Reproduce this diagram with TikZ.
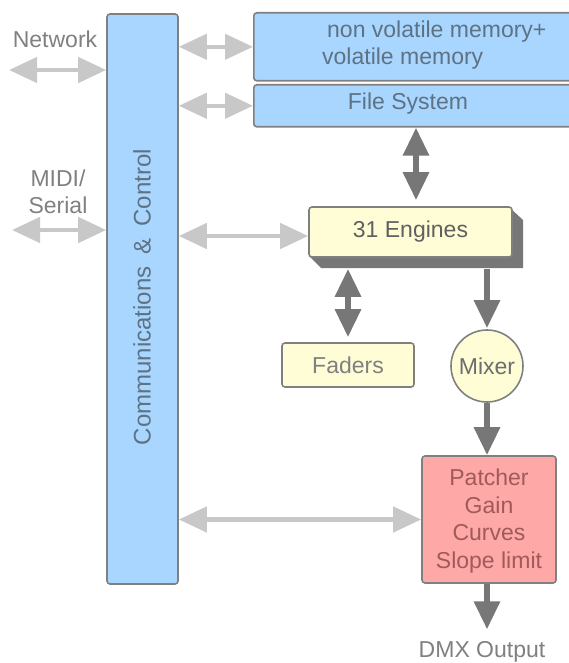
\documentclass[tikz,border=0pt]{standalone}
\usepackage{fontspec}
\setmainfont{Liberation Sans}
\usetikzlibrary{arrows.meta,calc}
\definecolor{bluefill}{HTML}{A8D6FF}
\definecolor{yelfill}{HTML}{FFFDD6}
\definecolor{pinkfill}{HTML}{FFA8A8}
\definecolor{boxline}{HTML}{808080}
\definecolor{darkarr}{HTML}{777777}
\definecolor{lightarr}{HTML}{C8C8C8}
\definecolor{txtgrey}{HTML}{808080}
\definecolor{bluetxt}{HTML}{5E7284}
\definecolor{redtxt}{HTML}{A05A5A}
\begin{document}
\begin{tikzpicture}[x=1pt,y=-1pt,
  every node/.style={font=\fontsize{23}{27.5}\selectfont, inner sep=0pt},
  blk/.style={draw=boxline, line width=1.6pt, rounded corners=3pt},
  bluebox/.style={blk, fill=bluefill},
  yelbox/.style={blk, fill=yelfill},
  lbl/.style={text=txtgrey},
  darr/.style={draw=darkarr, line width=6pt, -{Triangle[width=25pt,length=28pt]}},
  ddarr/.style={draw=darkarr, line width=6pt, {Triangle[width=25pt,length=28pt]}-{Triangle[width=25pt,length=28pt]}},
  larr/.style={draw=lightarr, line width=4.5pt, {Triangle[width=25pt,length=28pt]}-{Triangle[width=25pt,length=28pt]}}
]
\useasboundingbox (0,0) rectangle (568,663);
% boxes
\node[bluebox, minimum width=71pt, minimum height=570pt] (comm) at (142.5,299) {};
\node[rotate=90, text=bluetxt, font=\fontsize{24}{28}\selectfont] (commtxt) at (142,297) {Communications\hspace{12pt}\&\hspace{12pt}Control};
\node[bluebox, minimum width=330pt, minimum height=68pt, anchor=north west] (mem) at (253,12) {};
\node[text=bluetxt, align=left, anchor=west] (memtxt) at (322,45) {\hspace{5pt}non volatile memory+\\volatile memory};
\node[bluebox, minimum width=330pt, minimum height=42pt, anchor=north west] (fs) at (253,84) {};
\node[text=bluetxt] (fstxt) at (408,104) {File System};
% engines with extrusion shadow
\fill[darkarr] (509,207) -- (523,220) -- (523,268) -- (321,268) -- (309,256) -- (509,256) -- cycle;
\node[yelbox, minimum width=203pt, minimum height=50pt, text=txtgrey!75!black] (eng) at (410.5,232) {31 Engines};
\node[yelbox, minimum width=132pt, minimum height=44pt, text=txtgrey] (fad) at (348,365) {Faders};
\node[blk, circle, fill=yelfill, minimum size=72pt, text=txtgrey!85!black] (mix) at (487,366) {Mixer};
\node[blk, fill=pinkfill, minimum width=134pt, minimum height=127pt, text=redtxt, align=center] (pat) at (489,519.5) {};
\node[text=redtxt, align=center] (pattxt) at (489,521) {Patcher\\Gain\\Curves\\Slope limit};
% outside labels
\node[lbl] (net) at (55,39) {Network};
\node[lbl, align=center] (midi) at (58,192) {MIDI/\\Serial};
\node[lbl] (dmx) at (482,652) {DMX Output};
\coordinate (netend) at (9,70);
\coordinate (midiend) at (12,230);
% light arrows
\draw[larr] (netend) -- (netend -| comm.west);
\draw[larr] (midiend) -- (midiend -| comm.west);
\draw[larr] (comm.east |- mem.west) -- (mem.west);
\draw[larr] (comm.east |- fs.west) -- (fs.west);
\draw[larr] ([yshift=-4pt]comm.east |- eng.west) -- ([yshift=-4pt]eng.west);
\draw[larr] (comm.east |- pat.west) -- (pat.west);
% dark arrows
\draw[ddarr] ([xshift=5.5pt]eng.north |- fs.south) -- ([xshift=5.5pt,yshift=6pt]eng.north);
\draw[ddarr] ([yshift=-11pt]eng.south -| fad.north) -- ([yshift=5pt]fad.north);
\draw[darr] ([yshift=-11pt]eng.south -| mix.north) -- ([yshift=1pt]mix.north);
\draw[darr] (mix.south) -- (mix.south |- pat.north);
\draw[darr] (pat.south -| mix.south) -- ([yshift=12pt]dmx.north -| mix.south);
\end{tikzpicture}
\end{document}
